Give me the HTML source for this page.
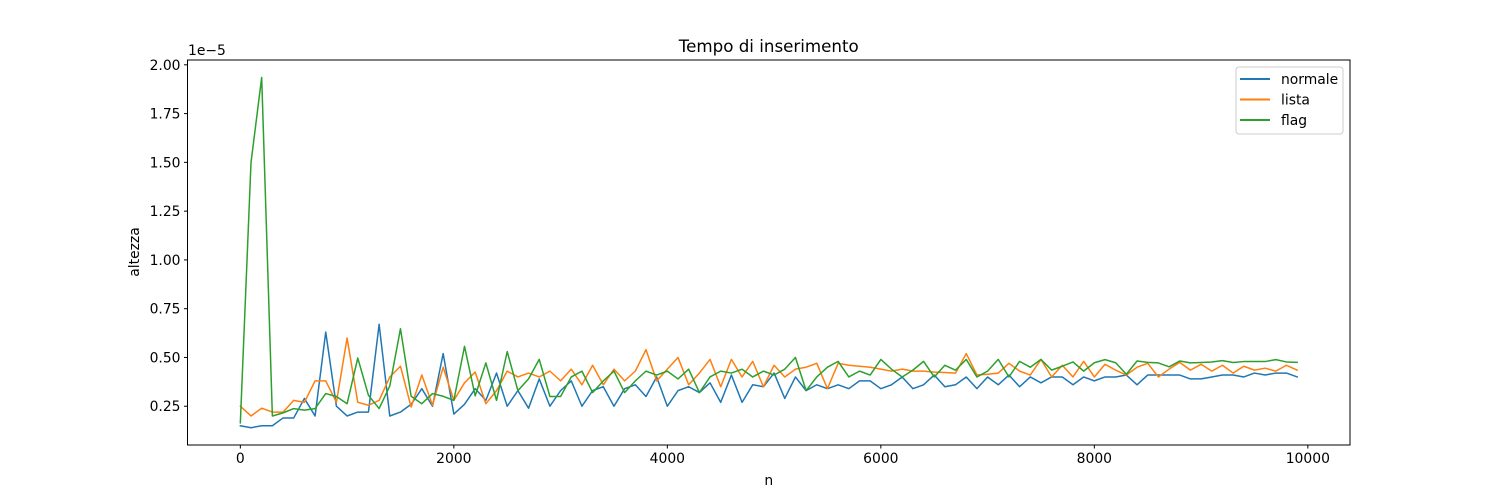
<!DOCTYPE html>
<html><head><meta charset="utf-8"><style>
body{margin:0;background:#fff;}
svg{display:block;font-family:"DejaVu Sans","Liberation Sans",sans-serif;}
</style></head><body>
<svg id="chart" width="1500" height="500" viewBox="0 0 1500 500" xmlns="http://www.w3.org/2000/svg">
<rect width="1500" height="500" fill="#fff"/>
<g id="ticks"></g>
<g id="series"></g>
<rect x="187.5" y="60" width="1162.5" height="385" fill="none" stroke="#000" stroke-width="1"/>
<text x="768.75" y="52" font-size="16.7" text-anchor="middle">Tempo di inserimento</text>
<text x="768.75" y="485" font-size="13.9" text-anchor="middle">n</text>
<text x="139" y="252" font-size="13.9" text-anchor="middle" transform="rotate(-90 139 252)">altezza</text>
<text x="188" y="55" font-size="13.9">1e−5</text>
<g>
<rect x="1236" y="67" width="107" height="67" rx="3" fill="#fff" fill-opacity="0.8" stroke="#ccc"/>
<line x1="1240" y1="79" x2="1270" y2="79" stroke="#1f77b4" stroke-width="2"/>
<text x="1281" y="84" font-size="13.9">normale</text>
<line x1="1240" y1="99.5" x2="1270" y2="99.5" stroke="#ff7f0e" stroke-width="2"/>
<text x="1281" y="104.5" font-size="13.9">lista</text>
<line x1="1240" y1="120" x2="1270" y2="120" stroke="#2ca02c" stroke-width="2"/>
<text x="1281" y="125" font-size="13.9">flag</text>
</g>
</svg>
<script>
const xTicks = [0, 2000, 4000, 6000, 8000, 10000];
const xTickLabels = ["0", "2000", "4000", "6000", "8000", "10000"];
const yTicks = [0.25, 0.5, 0.75, 1.0, 1.25, 1.5, 1.75, 2.0];
const yTickLabels = ["0.25", "0.50", "0.75", "1.00", "1.25", "1.50", "1.75", "2.00"];
const seriesNames = ["normale", "lista", "flag"];
const normale = [0.15,0.14,0.15,0.15,0.19,0.19,0.29,0.20,0.63,0.25,0.20,0.22,0.22,0.67,0.20,0.22,0.26,0.34,0.25,0.52,0.21,0.26,0.34,0.28,0.42,0.25,0.33,0.24,0.39,0.25,0.33,0.38,0.25,0.33,0.35,0.25,0.34,0.36,0.30,0.40,0.25,0.33,0.35,0.32,0.37,0.27,0.41,0.27,0.36,0.35,0.42,0.29,0.40,0.33,0.36,0.34,0.36,0.34,0.38,0.38,0.34,0.36,0.40,0.34,0.36,0.41,0.35,0.36,0.40,0.34,0.40,0.36,0.41,0.35,0.40,0.37,0.40,0.40,0.36,0.40,0.38,0.40,0.40,0.41,0.36,0.41,0.41,0.41,0.41,0.39,0.39,0.40,0.41,0.41,0.40,0.42,0.41,0.42,0.42,0.40];
const lista = [0.25,0.20,0.24,0.22,0.22,0.28,0.27,0.38,0.38,0.27,0.60,0.27,0.255,0.28,0.40,0.455,0.246,0.41,0.255,0.45,0.28,0.37,0.425,0.263,0.33,0.43,0.40,0.42,0.40,0.43,0.38,0.44,0.36,0.46,0.36,0.44,0.38,0.43,0.54,0.38,0.44,0.50,0.36,0.42,0.49,0.35,0.49,0.40,0.48,0.35,0.46,0.40,0.44,0.45,0.47,0.34,0.47,0.46,0.455,0.45,0.44,0.43,0.44,0.43,0.43,0.425,0.423,0.42,0.52,0.41,0.414,0.42,0.47,0.43,0.41,0.49,0.40,0.46,0.40,0.48,0.40,0.465,0.435,0.41,0.45,0.47,0.40,0.44,0.475,0.435,0.465,0.43,0.46,0.42,0.455,0.435,0.445,0.43,0.46,0.435];
const flag = [0.165,1.50,1.935,0.20,0.216,0.238,0.23,0.238,0.315,0.30,0.263,0.497,0.306,0.238,0.354,0.647,0.301,0.263,0.315,0.301,0.28,0.557,0.303,0.472,0.28,0.53,0.33,0.39,0.49,0.30,0.30,0.40,0.43,0.32,0.38,0.43,0.32,0.38,0.43,0.41,0.43,0.39,0.44,0.32,0.40,0.43,0.42,0.44,0.40,0.43,0.41,0.44,0.50,0.33,0.40,0.45,0.48,0.40,0.43,0.41,0.49,0.44,0.40,0.435,0.48,0.40,0.46,0.435,0.49,0.40,0.43,0.49,0.40,0.48,0.45,0.49,0.435,0.455,0.477,0.43,0.473,0.489,0.473,0.414,0.482,0.475,0.472,0.452,0.482,0.472,0.474,0.477,0.484,0.474,0.479,0.479,0.479,0.489,0.477,0.475];
const xStep = 100;

const NS = "http://www.w3.org/2000/svg";
const L = 187.5, R = 1350, T = 60, B = 445;
const xMin = -495, xMax = 10395, yMin = 0.0513, yMax = 2.0247;
function xs(v){ return L + (v - xMin) / (xMax - xMin) * (R - L); }
function ys(v){ return B - (v - yMin) / (yMax - yMin) * (B - T); }
function mk(tag, attrs){ const e = document.createElementNS(NS, tag); for (const k in attrs) e.setAttribute(k, attrs[k]); return e; }

const tg = document.getElementById("ticks");
xTicks.forEach((t, i) => {
  const x = xs(t);
  const ln = mk("line", {x1:x, x2:x, y1:B, y2:B+3.5, stroke:"#000"});
  
  
  tg.appendChild(ln);
  const tx = mk("text", {x:x, y:B+18, "font-size":13.9, "text-anchor":"middle"});
  
  
  tx.textContent = xTickLabels[i];
  tg.appendChild(tx);
});
yTicks.forEach((t, i) => {
  const y = ys(t);
  const ln = mk("line", {x1:L-3.5, x2:L, y1:y, y2:y, stroke:"#000"});
  
  
  tg.appendChild(ln);
  const tx = mk("text", {x:L-7, y:y+5, "font-size":13.9, "text-anchor":"end"});
  
  
  tx.textContent = yTickLabels[i];
  tg.appendChild(tx);
});

const sg = document.getElementById("series");
const colors = ["#1f77b4", "#ff7f0e", "#2ca02c"];
[normale, lista, flag].forEach((arr, si) => {
  const d = arr.map((v, i) => (i ? "L" : "M") + xs(i * xStep).toFixed(2) + " " + ys(v).toFixed(2)).join(" ");
  const p = mk("path", {d:d, fill:"none", stroke:colors[si], "stroke-width":1.5, "stroke-linejoin":"round", "stroke-linecap":"square"});
  
  
  sg.appendChild(p);
});
</script>
</body></html>
